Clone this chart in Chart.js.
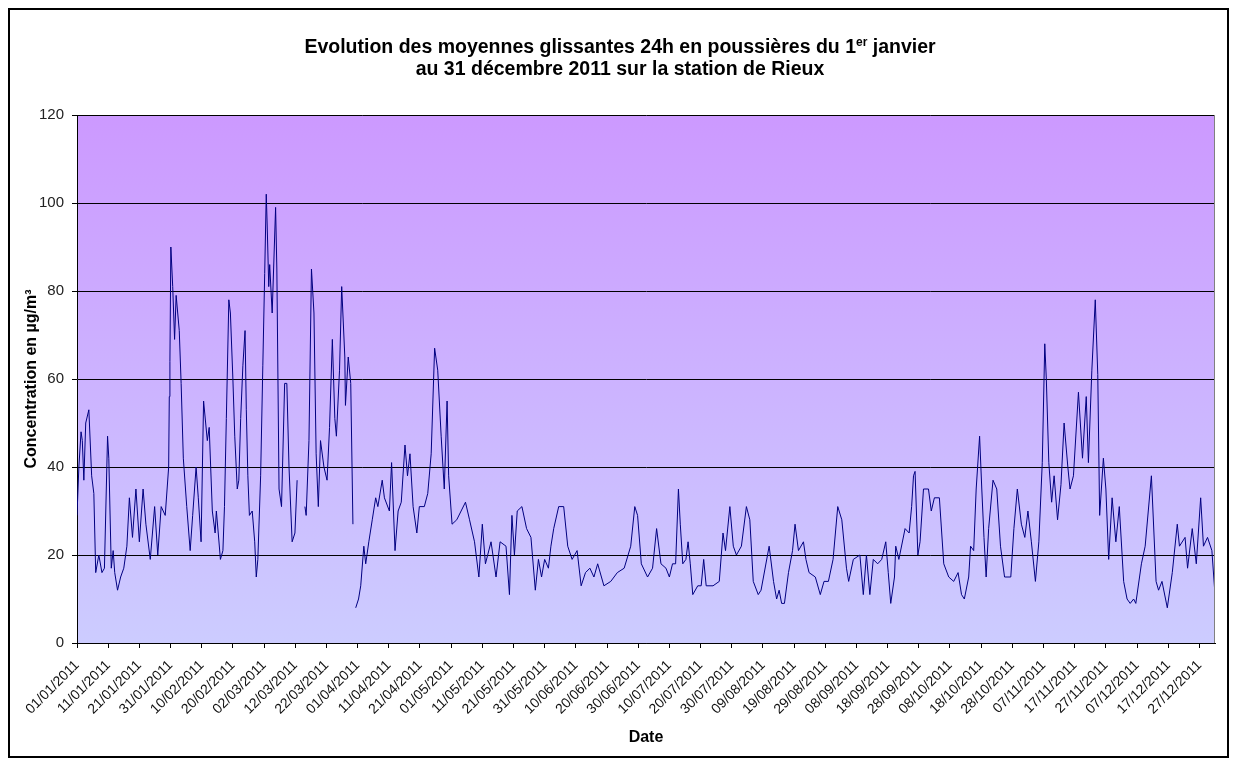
<!DOCTYPE html>
<html><head><meta charset="utf-8">
<script src="https://cdn.jsdelivr.net/npm/chart.js@4.4.1/dist/chart.umd.min.js"></script>
<style>html,body{margin:0;padding:0;background:#fff;}#wrap{width:1236px;height:765px;position:relative;}</style>
</head><body><div id="wrap"><canvas id="c" width="1236" height="765"></canvas></div>
<script>
const titleLine1 = ['Evolution des moyennes glissantes 24h en poussières du 1', 'er', ' janvier'];
const titleLine2 = 'au 31 décembre 2011 sur la station de Rieux';
const xTitle = 'Date';
const yTitle = 'Concentration en µg/m³';
const yTicks = [0, 20, 40, 60, 80, 100, 120];
const tickLabels = ['01/01/2011','11/01/2011','21/01/2011','31/01/2011','10/02/2011','20/02/2011','02/03/2011','12/03/2011','22/03/2011','01/04/2011','11/04/2011','21/04/2011','01/05/2011','11/05/2011','21/05/2011','31/05/2011','10/06/2011','20/06/2011','30/06/2011','10/07/2011','20/07/2011','30/07/2011','09/08/2011','19/08/2011','29/08/2011','08/09/2011','18/09/2011','28/09/2011','08/10/2011','18/10/2011','28/10/2011','07/11/2011','17/11/2011','27/11/2011','07/12/2011','17/12/2011','27/12/2011'];

// [day since 01/01/2011, value µg/m3]; null value = missing data
const q1 = [[0,29],[0.6,40],[1.3,48],[1.7,46],[2.2,37],[2.8,50],[3.8,53],[4.7,38],[5.4,34],[6,16],[7,20],[8,16],[8.8,17],[9.8,47],[10.2,42],[11,17],[11.6,21],[12.1,16],[13,12],[14,15],[15,17],[16,22],[16.8,33],[17.8,24],[18.9,35],[20,23],[21.2,35],[22.1,27],[23.5,19],[24.9,31],[25.9,20],[27,31],[28.3,29],[29.4,40],[29.6,56],[29.8,64],[30.1,90],[30.7,81],[31.3,69],[31.8,79],[32.8,71],[33.4,59],[34.1,42],[35.2,31],[36.3,21],[37.1,29],[38.2,40],[38.9,33],[39.8,23],[40.6,55],[41.8,46],[42.4,49],[43.4,30],[44.3,25],[44.7,30],[45.3,25],[46,19],[46.8,21],[47.3,31],[47.9,51],[48.7,78],[49.2,75],[50,60],[50.6,47],[51.4,35],[51.9,37],[52.5,51],[53.2,63],[53.9,71],[54.3,53],[54.8,38],[55.3,29],[56.2,30],[57,23],[57.5,15],[58,19],[58.9,38],[59.6,63],[60.2,84],[60.7,102],[61,95],[61.5,81],[61.8,86],[62.6,75],[63.7,99],[64.1,85],[64.8,35],[65.6,31],[66.6,59],[67.3,59],[68,40],[69,23],[69.9,25],[70.6,37],[71.8,null],[73.1,31],[73.5,29],[74.4,46],[75.2,85],[76,75],[76.7,43],[77.4,31],[78.1,46],[79.2,40],[80.2,37],[81,49],[81.9,69],[82.7,51],[83.2,47],[84.2,62],[84.9,81],[85.9,65],[86.1,54],[87,65],[87.8,59],[88.5,27],[88.9,null]];
const q2 = [[89.4,8],[90.3,10],[91,13],[92,22],[92.6,18],[93.6,23],[94.7,28],[95.8,33],[96.5,31],[97.9,37],[98.6,33],[100.2,30],[100.9,41],[102,21],[103,30],[104,32],[105.2,45],[106,38],[106.8,43],[107.8,31],[109,25],[109.8,31],[111.4,31],[112.5,34],[113.6,43],[114.7,67],[115.7,62],[116.8,47],[117.8,35],[118.7,55],[119.2,38],[120.3,27],[121.8,28],[123.2,30],[124.6,32],[125.9,28],[127.5,23],[128.9,15],[130,27],[131,18],[132.8,23],[134.4,15],[135.7,23],[137.6,22],[138.7,11],[139.5,29],[140.3,20],[141.2,30],[142.7,31],[144.2,26],[145.6,24],[147,12],[148,19],[149,15],[150,19],[151.2,17],[152,22],[152.9,26],[154.5,31],[156.1,31],[157.4,22],[158.8,19],[160.4,21],[161.7,13],[163.1,16],[164.5,17],[165.8,15],[167,18],[169,13],[171.2,14],[173.3,16],[175.5,17],[177.6,22],[178.9,31],[179.8,29],[181,18]];
const q3 = [[183,15],[184.6,17],[185.9,26],[187.3,18],[188.9,17],[190,15],[191,18],[192,18],[192.9,35],[193.5,27],[194.3,18],[195.3,19],[196,23],[196.7,18],[197.5,11],[199.1,13],[200.2,13],[201,19],[201.8,13],[204,13],[206,14],[207.2,25],[208,21],[209.4,31],[210.5,22],[211.5,20],[213.1,22],[214.7,31],[215.8,28],[216.9,14],[218.5,11],[219.4,12],[222,22],[223.4,14],[224.4,10],[225.2,12],[226,9],[226.9,9],[228.2,16],[229.5,21],[230.3,27],[231.4,21],[233,23],[233.8,19],[234.8,16],[236.8,15],[238.4,11],[239.6,14],[241,14],[242.5,19],[244,31],[245.3,28],[246.8,17],[247.5,14],[249,19],[251.1,20],[252.2,11],[253.2,20],[254.3,11],[255.4,19],[256.8,18],[258.1,19],[259.4,23],[260.2,16],[261,9],[262.2,15],[262.6,22],[263.6,19],[265.6,26],[266.9,25],[267.7,31],[268.3,38],[268.8,39],[269.7,20],[270.4,23],[271.5,35],[273.1,35]];
const q4 = [[274,30],[275,33],[276.6,33],[278,18],[279.6,15],[281.2,14],[282.6,16],[283.7,11],[284.6,10],[286,15],[286.6,22],[287.6,21],[288.4,35],[289.5,47],[290.2,35],[290.9,24],[291.6,15],[292.4,26],[293.8,37],[295,35],[296.2,22],[297.5,15],[299.5,15],[300.5,26],[301.6,35],[302.9,27],[304,24],[305,30],[306.1,23],[307.4,14],[308.5,23],[309.6,41],[310.4,68],[310.9,60],[311.7,41],[312.6,32],[313.4,38],[314.5,28],[315.6,36],[316.6,50],[317.8,40],[318.5,35],[319.6,38],[321.2,57],[322.5,42],[323.7,56],[324.4,41],[325.5,62],[326.6,78],[327.4,61],[328,29],[329.2,42],[330,35],[330.9,19],[332,33],[333.2,23],[334.3,31],[335.7,14],[336.8,10],[337.8,9],[338.9,10],[339.6,9],[341.4,18],[342.6,22],[344.6,38],[345.1,30],[346.1,14],[346.9,12],[348,14],[349.7,8],[351.3,16],[352.9,27],[353.6,22],[355.4,24],[356.2,17],[357.7,26],[359,18],[360.4,33],[361.3,22],[362.6,24],[364,21],[365,11]];

const points = [].concat(q1, q2, q3, q4).map(p => ({x: p[0], y: p[1]}));
const FONT = '"Liberation Sans", Arial, sans-serif';

const decor = {
  id: 'decor',
  beforeDraw(chart) {
    const {ctx, chartArea: a} = chart;
    ctx.save();
    ctx.fillStyle = '#fff';
    ctx.fillRect(0, 0, chart.width, chart.height);
    const g = ctx.createLinearGradient(0, a.top, 0, a.bottom);
    g.addColorStop(0, '#CC99FF');
    g.addColorStop(1, '#CCCCFF');
    ctx.fillStyle = g;
    ctx.fillRect(a.left, a.top, a.right - a.left, a.bottom - a.top);
    ctx.strokeStyle = '#000';
    ctx.lineWidth = 2;
    ctx.strokeRect(9, 9, 1219, 748);
    ctx.restore();
  },
  afterDraw(chart) {
    const {ctx, chartArea: a} = chart;
    ctx.save();
    ctx.strokeStyle = '#808080';
    ctx.lineWidth = 1;
    ctx.beginPath();
    ctx.moveTo(a.right - 0.5, a.top);
    ctx.lineTo(a.right - 0.5, a.bottom);
    ctx.stroke();
    // title
    ctx.fillStyle = '#000';
    ctx.textBaseline = 'alphabetic';
    const big = 'bold 19.5px ' + FONT, small = 'bold 12px ' + FONT;
    ctx.font = big;
    const w1 = ctx.measureText(titleLine1[0]).width;
    const w3 = ctx.measureText(titleLine1[2]).width;
    ctx.font = small;
    const w2 = ctx.measureText(titleLine1[1]).width;
    const cx = 620;
    let x = cx - (w1 + w2 + w3) / 2;
    const y1 = 53;
    ctx.font = big; ctx.textAlign = 'left';
    ctx.fillText(titleLine1[0], x, y1); x += w1;
    ctx.font = small; ctx.fillText(titleLine1[1], x, y1 - 7); x += w2;
    ctx.font = big; ctx.fillText(titleLine1[2], x, y1);
    ctx.textAlign = 'center';
    ctx.fillText(titleLine2, cx, y1 + 22);
    ctx.restore();
  }
};

new Chart(document.getElementById('c'), {
  type: 'line',
  data: { datasets: [{ data: points, borderColor: '#000080', borderWidth: 1, pointRadius: 0, tension: 0, spanGaps: false }] },
  options: {
    responsive: false, animation: false,
    layout: { padding: { top: 115, right: 21, left: 0, bottom: 0 } },
    plugins: { legend: { display: false }, title: { display: false }, tooltip: { enabled: false } },
    scales: {
      x: {
        type: 'linear', min: 0, max: 365,
        afterBuildTicks: s => { s.ticks = tickLabels.map((_, i) => ({ value: i * 10 })); },
        afterFit: s => { s.height = 122; },
        ticks: { autoSkip: false, minRotation: 45, maxRotation: 45, padding: 9, color: '#111',
          font: { family: FONT, size: 14 }, callback: v => tickLabels[Math.round(v / 10)] || '' },
        grid: { drawOnChartArea: false, tickLength: 5, color: '#000' },
        border: { color: '#000', width: 1 },
        title: { display: true, text: xTitle, color: '#000', font: { family: FONT, size: 16, weight: 'bold' }, padding: { top: 0, bottom: 18 } }
      },
      y: {
        min: 0, max: 120,
        afterBuildTicks: s => { s.ticks = yTicks.map(v => ({ value: v })); },
        afterFit: s => { s.width = 77; },
        ticks: { padding: 8, color: '#222', font: { family: FONT, size: 15 } },
        grid: { color: '#000', lineWidth: 1, tickLength: 5 },
        border: { color: '#000', width: 1 },
        title: { display: true, text: yTitle, color: '#000', font: { family: FONT, size: 16, weight: 'bold' }, padding: { top: 22, bottom: 0 } }
      }
    }
  },
  plugins: [decor]
});
</script></body></html>
